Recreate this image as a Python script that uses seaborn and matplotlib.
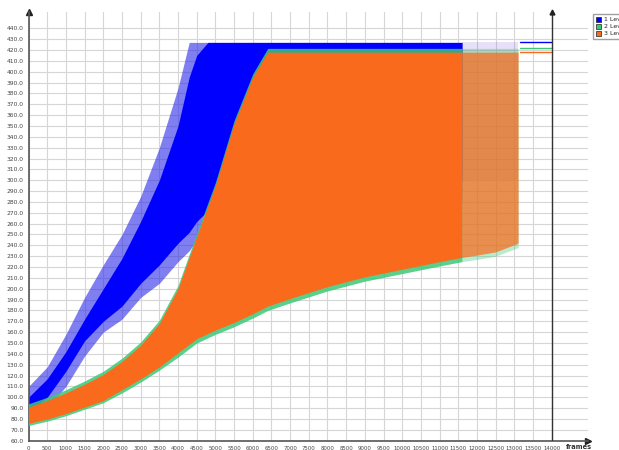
import numpy as np
import pandas as pd
import matplotlib
matplotlib.use("Agg")
import matplotlib.pyplot as plt
import seaborn as sns
from matplotlib.patches import Patch
from matplotlib.ticker import FormatStrFormatter

# --- values (envelopes of the three noisy series) ---
# 2 Level / 3 Level share one frame grid
frames_a = [0, 500, 1000, 1500, 2000, 2500, 3000, 3500, 4000, 4500, 5000, 5500,
            6000, 6400, 7000, 8000, 9000, 10000, 11000, 11600, 12000, 12500, 13100]
green_lo = [74, 78, 83, 89, 95, 104, 114, 125, 137, 150, 158, 165,
            173, 180, 187, 198, 207, 214, 221, 225, 227, 230, 238]
green_hi = [94, 100, 107, 115, 124, 136, 151, 171, 203, 251, 298, 355,
            398, 421.5, 421.5, 421.5, 421.5, 421.5, 421.5, 421.5, 421.5, 421.5, 421.5]
orange_lo = [76, 80, 85, 91, 97, 107, 117, 128, 141, 154, 162, 169,
             177, 184, 191, 202, 211, 218, 225, 229, 231, 234, 242]
orange_hi = [91, 97, 104, 112, 121, 133, 148, 168, 200, 248, 295, 352,
             395, 418, 418, 418, 418, 418, 418, 418, 418, 418, 418]

# 1 Level
frames_b = [0, 500, 1000, 1500, 2000, 2500, 3000, 3500, 4000, 4300, 4500, 4800,
            5000, 6000, 8000, 10000, 11600, 12500, 13100]
blue_tip_hi = [110, 128, 158, 192, 222, 250, 285, 330, 385, 427, 427, 427,
               427, 427, 427, 427, 427, 427, 427]
blue_hi = [100, 117, 142, 172, 200, 228, 262, 300, 350, 395, 415, 427,
           427, 427, 427, 427, 427, 427, 427]
blue_lo = [86, 100, 124, 152, 170, 184, 205, 222, 242, 252, 262, 272,
           278, 300, 300, 300, 300, 300, 300]
blue_tip_lo = [80, 90, 110, 138, 160, 172, 192, 205, 225, 235, 245, 255,
               260, 280, 280, 280, 280, 280, 280]

# flat tail after the run
tail_frames = [13150, 14000]
tail_blue = [427, 427]
tail_green = [421.5, 421.5]
tail_orange = [418, 418]

levels = ["1 Level", "2 Level", "3 Level"]
c_blue = "#0000ff"
c_green = "#3cc878"
c_orange = "#fa6a1c"

sns.set_style("white")
plt.rcParams["font.family"] = ["DejaVu Sans"]

fig = plt.figure(figsize=(6.19, 4.5), dpi=100)
ax = fig.add_axes([28.5 / 619, 9.3 / 450, (588 - 28.5) / 619, (440.7 - 12) / 450])

fa = np.array(frames_a)
fb = np.array(frames_b)
solid_a = fa <= 11600
strip_a = fa >= 11600
solid_b = fb <= 11600
strip_b = fb >= 11600

# 1 Level: spiky fringe + dense core
ax.fill_between(fb, blue_tip_lo, blue_tip_hi, where=solid_b, color="#2a2ae8",
                alpha=0.6, lw=0, zorder=2)
ax.fill_between(fb, blue_lo, blue_hi, where=solid_b, color=c_blue, lw=0, zorder=2.1)
ax.fill_between(fb, blue_lo, blue_hi, where=strip_b, color="#5a3ad0", alpha=0.15,
                lw=0, zorder=2.1)

# 2 Level
ax.fill_between(fa, green_lo, green_hi, where=solid_a, color=c_green, alpha=0.85,
                lw=0, zorder=3)
ax.fill_between(fa, green_lo, green_hi, where=strip_a, color=c_green, alpha=0.35,
                lw=0, zorder=3)

# 3 Level
ax.fill_between(fa, orange_lo, orange_hi, where=solid_a, color=c_orange, lw=0, zorder=4)
ax.fill_between(fa, orange_lo, orange_hi, where=strip_a, color=c_orange, alpha=0.72,
                lw=0, zorder=4)

tail = pd.DataFrame({
    "frame": tail_frames * 3,
    "value": tail_blue + tail_green + tail_orange,
    "level": [levels[0]] * 2 + [levels[1]] * 2 + [levels[2]] * 2,
})
sns.lineplot(data=tail, x="frame", y="value", hue="level",
             palette=[c_blue, c_green, c_orange], lw=1.0, legend=False, ax=ax, zorder=5)

# current frame marker
ax.axvline(14000, color="#333333", lw=1.0, zorder=6)
ax.plot(14000, 1, marker="^", color="#222222", ms=3.5,
        transform=ax.get_xaxis_transform(), clip_on=False, zorder=7)

ax.set_xlim(0, 14970)
ax.set_ylim(60, 455)
ax.set_xticks(np.arange(0, 14001, 500))
ax.set_yticks(np.arange(60, 441, 10))
ax.yaxis.set_major_formatter(FormatStrFormatter("%.1f"))
ax.tick_params(axis="y", labelsize=4.3, colors="#444444", length=2, width=0.6, pad=1.5)
ax.tick_params(axis="x", labelsize=3.9, colors="#444444", length=2, width=0.6, pad=1.5)
ax.grid(True, color="#d6d6d6", lw=0.8, zorder=0)
ax.set_axisbelow(True)
ax.set_xlabel("")
ax.set_ylabel("")

for s in ["top", "right"]:
    ax.spines[s].set_visible(False)
for s in ["left", "bottom"]:
    ax.spines[s].set_color("#555555")
    ax.spines[s].set_linewidth(1.2)
ax.plot(0, 1, marker="^", color="#222222", ms=4, transform=ax.transAxes, clip_on=False)
ax.plot(1, 0, marker=">", color="#222222", ms=4, transform=ax.transAxes, clip_on=False)

ax.text(14380, -0.008, "frames", transform=ax.get_xaxis_transform(),
        fontsize=4.8, fontweight="bold", color="#333333", va="top", ha="left")

handles = [Patch(facecolor=c, edgecolor="#222222", lw=0.5) for c in [c_blue, c_green, c_orange]]
fig.legend(handles, levels, loc="upper left", bbox_to_anchor=(590 / 619, 1 - 11 / 450),
           fontsize=4.5, frameon=True, fancybox=False, edgecolor="#888888",
           handlelength=0.9, handleheight=0.9, handletextpad=0.5,
           borderpad=0.4, labelspacing=0.2)

fig.savefig("out.png", dpi=100)
